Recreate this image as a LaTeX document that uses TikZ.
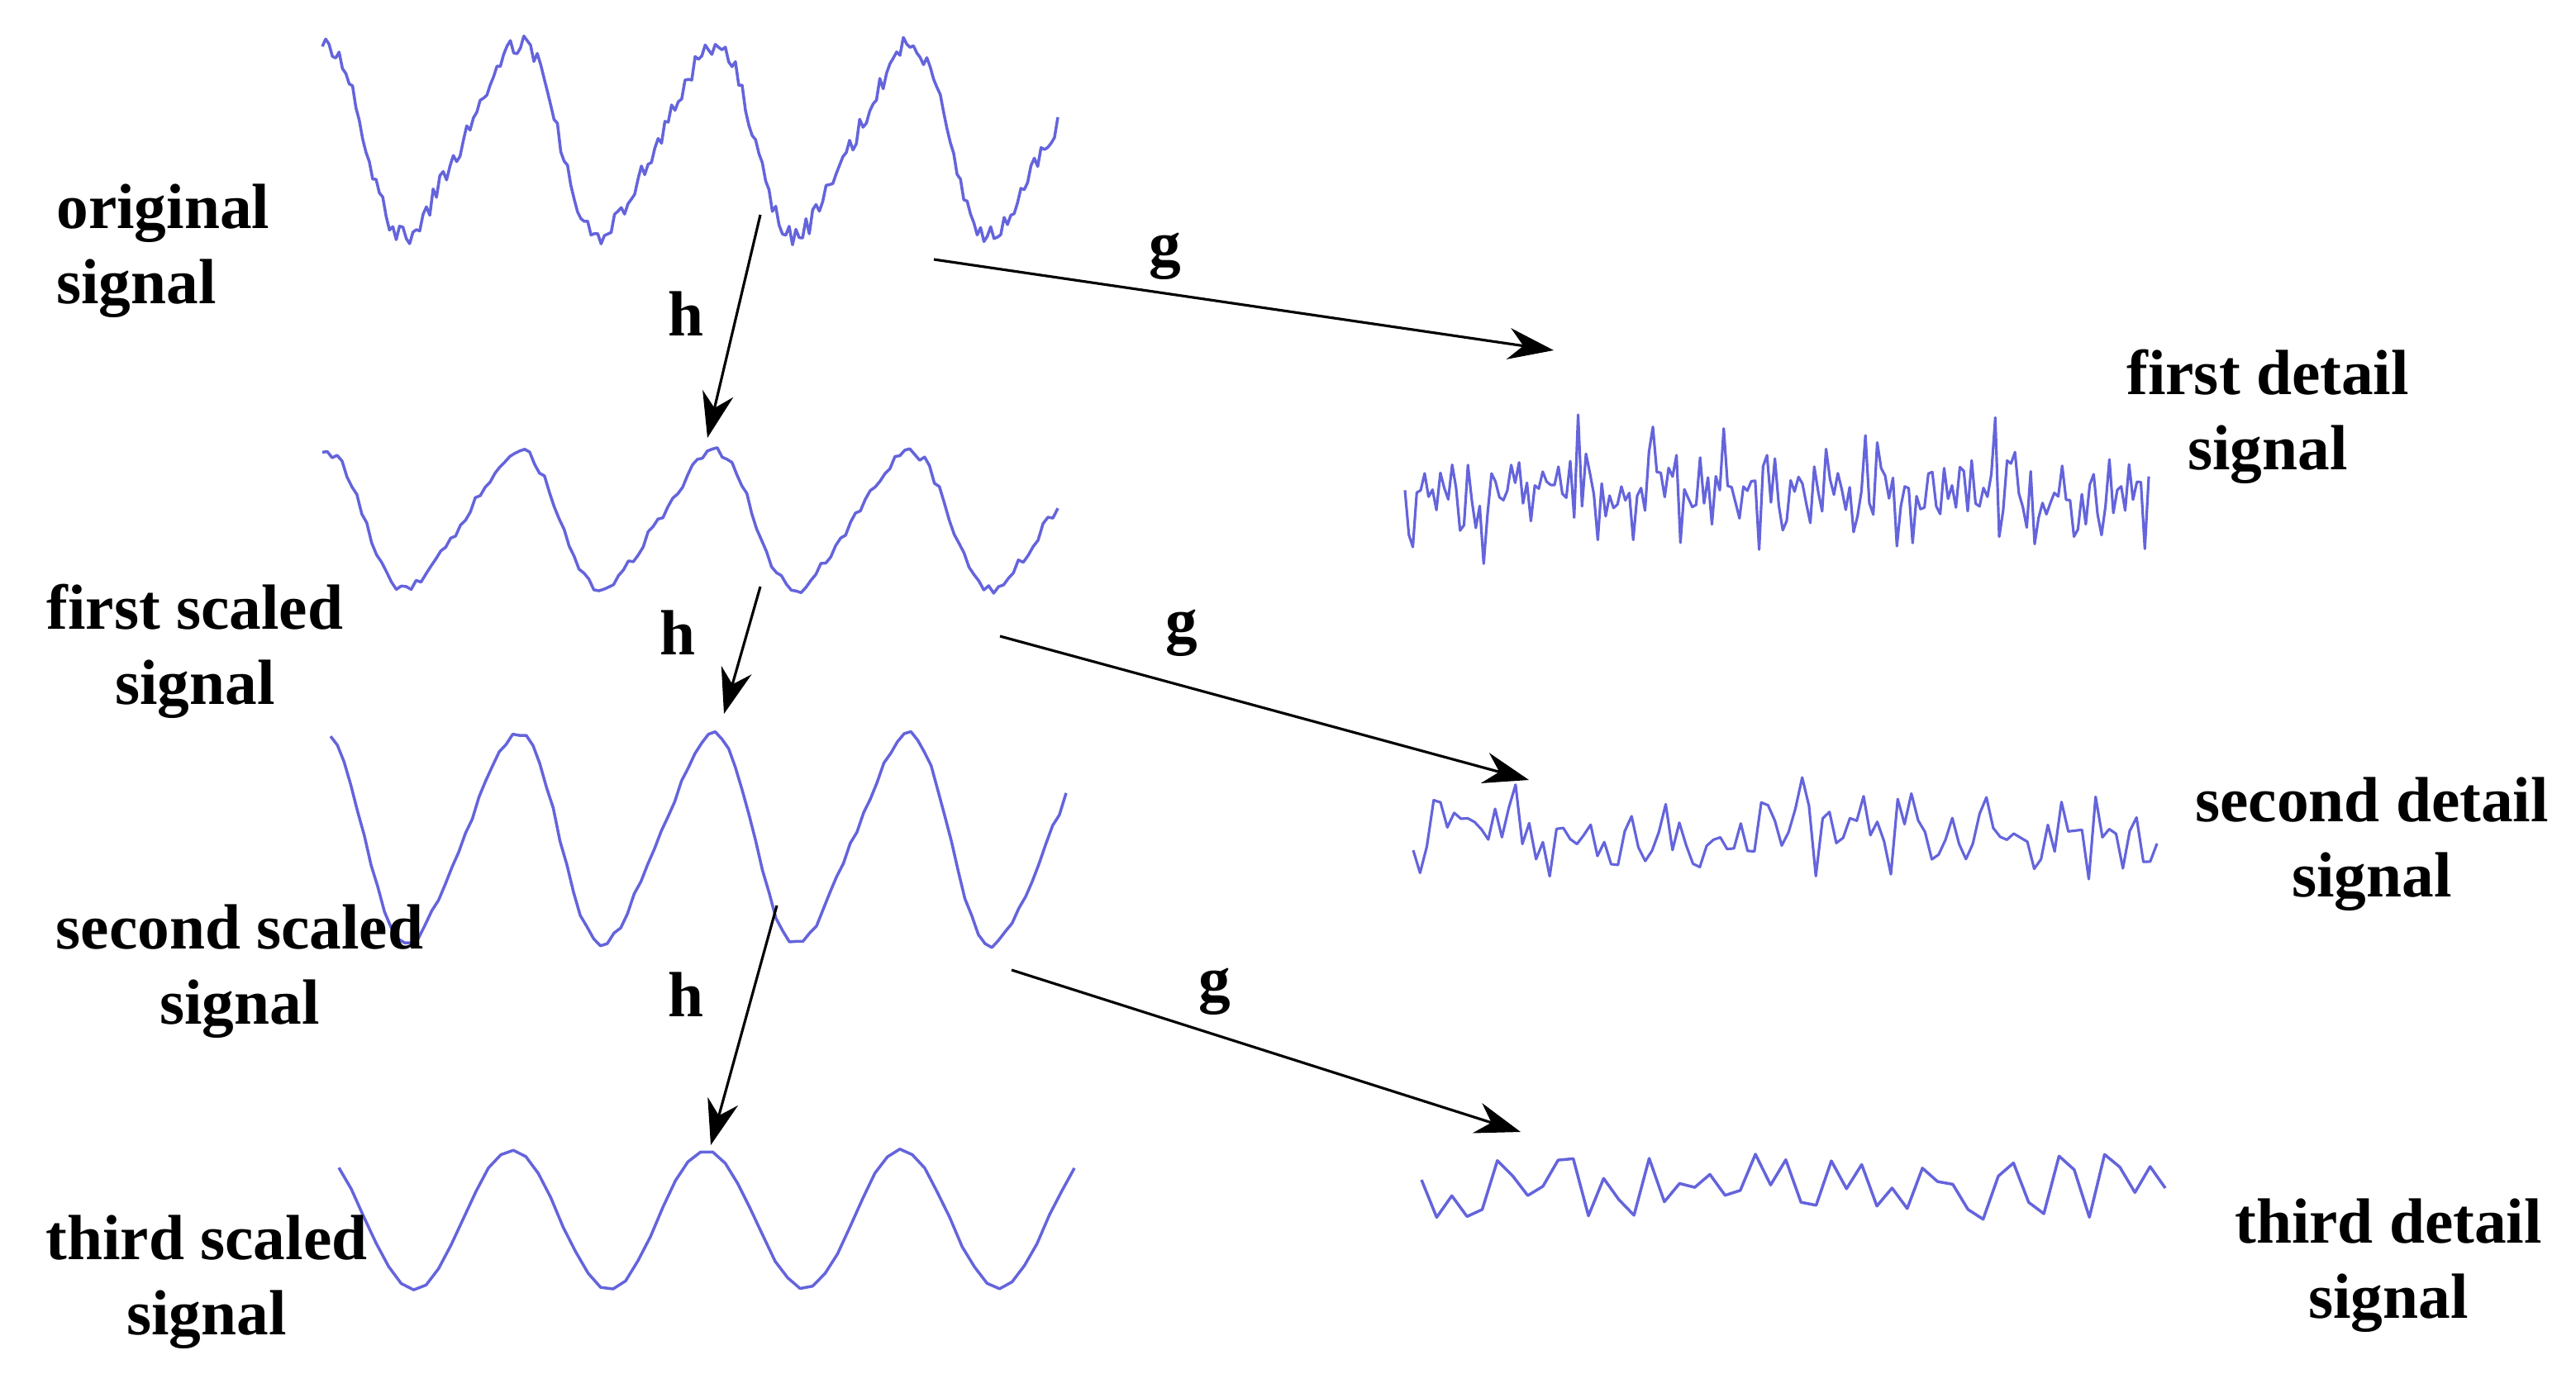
\documentclass[tikz,border=0pt]{standalone}
\usepackage{fontspec}
\usetikzlibrary{arrows.meta}
\setmainfont{Liberation Serif}
\begin{document}
\begin{tikzpicture}[x=0.02cm,y=-0.02cm,
  sig/.style={draw={rgb,255:red,100;green,100;blue,220},line width=1pt,line join=round},
  lbl/.style={font=\fontsize{22}{26}\selectfont\bfseries,align=center},
  arr/.style={-{Stealth[length=0.55cm,width=0.38cm]},line width=0.9pt}]
\useasboundingbox (0,0) rectangle (1558.5,831);
\pgfmathsetseed{7}
% scaled signals
\draw[sig] plot[domain=195:640,samples=220] (\x,{85-55*sin(3.0508*(\x-280))-10*sin(6.1*(\x-250))+6*rand});
\draw[sig] plot[domain=195:640,samples=150] (\x,{315-40*sin(3.0508*(\x-280))-6*sin(6.1*(\x-250))+3*rand});
\draw[sig] plot[domain=200:645,samples=110] (\x,{508-62*sin(3.0508*(\x-280))-8*sin(6.1*(\x-250))+2*rand});
\draw[sig] plot[domain=205:650,samples=60] (\x,{738-42*sin(3.0508*(\x-280))+1*rand});
% detail signals
\draw[sig,line width=0.9pt] plot[domain=850:1300,samples=190] (\x,{298+(28+20*rand)*rand});
\draw[sig,line width=0.9pt] plot[domain=855:1305,samples=110] (\x,{505+(22+14*rand)*rand});
\draw[sig] plot[domain=860:1310,samples=50] (\x,{718+20*rand});
% labels
\node[lbl,align=left,anchor=west] at (28,152) {original\\signal};
\node[lbl] at (118,394) {first scaled\\signal};
\node[lbl] at (145,588) {second scaled\\signal};
\node[lbl] at (125,776) {third scaled\\signal};
\node[lbl] at (1372,252) {first detail\\signal};
\node[lbl] at (1435,511) {second detail\\signal};
\node[lbl] at (1445,766) {third detail\\signal};
% arrows
\coordinate (h1s) at (460,130); \coordinate (h1e) at (428,265);
\coordinate (h2s) at (460,355); \coordinate (h2e) at (438,432);
\coordinate (h3s) at (470,548); \coordinate (h3e) at (430,693);
\coordinate (g1s) at (565,157); \coordinate (g1e) at (940,212);
\coordinate (g2s) at (605,385); \coordinate (g2e) at (925,472);
\coordinate (g3s) at (612,587); \coordinate (g3e) at (920,685);
\draw[arr] (h1s) -- (h1e); \draw[arr] (h2s) -- (h2e); \draw[arr] (h3s) -- (h3e);
\draw[arr] (g1s) -- (g1e); \draw[arr] (g2s) -- (g2e); \draw[arr] (g3s) -- (g3e);
\node[lbl] (lh1) at (415,190) {h};
\node[lbl] (lh2) at (410,383) {h};
\node[lbl] (lh3) at (415,602) {h};
\node[lbl] (lg1) at (705,155) {g};
\node[lbl] (lg2) at (715,383) {g};
\node[lbl] (lg3) at (735,600) {g};
\end{tikzpicture}
\end{document}
